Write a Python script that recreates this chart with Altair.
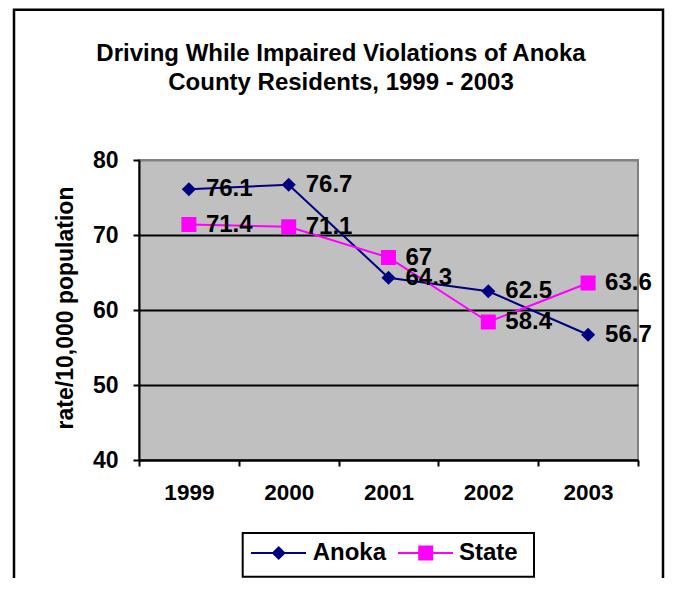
import altair as alt
import pandas as pd

years = ["1999", "2000", "2001", "2002", "2003"]
anoka = [76.1, 76.7, 64.3, 62.5, 56.7]
state = [71.4, 71.1, 67, 58.4, 63.6]
series = ["Anoka", "State"]
colors = ["#000080", "#FF00FF"]
shapes = ["diamond", "square"]
title_lines = ["Driving While Impaired Violations of Anoka", "County Residents, 1999 - 2003"]
y_title = "rate/10,000 population"
y_ticks = [40, 50, 60, 70, 80]

FONT = "Liberation Sans"

rows = []
for name, vals in zip(series, [anoka, state]):
    for yr, v in zip(years, vals):
        rows.append({"year": yr, "value": v, "series": name, "label": f"{v:g}"})
df = pd.DataFrame(rows)

x_enc = alt.X(
    "year:O",
    sort=years,
    bandPosition=0.5,
    scale=alt.Scale(type="band", paddingInner=0, paddingOuter=0),
    axis=alt.Axis(
        title=None, labelAngle=0, tickBand="extent", grid=False,
        domainColor="black", domainWidth=2, tickColor="black", tickWidth=2,
        tickSize=6, labelPadding=15, labelFontSize=22.5, labelFont=FONT,
        labelFontWeight="bold", labelColor="black", zindex=1,
    ),
)
y_enc = alt.Y(
    "value:Q",
    scale=alt.Scale(domain=[40, 80], nice=False, zero=False),
    axis=alt.Axis(
        values=y_ticks, title=y_title, titleFont=FONT, titleFontSize=23,
        titleFontWeight="bold", titleColor="black", titleX=-62, titleY=147.5,
        labelFont=FONT, labelFontSize=23, labelFontWeight="bold", labelColor="black",
        labelPadding=15, tickSize=6, tickWidth=2, tickColor="black",
        domainColor="black", domainWidth=2,
        gridColor=alt.condition("datum.value == 80", alt.value("#808080"), alt.value("black")),
        gridWidth=2,
    ),
)
color_enc = alt.Color("series:N", scale=alt.Scale(domain=series, range=colors), legend=None)
shape_enc = alt.Shape("series:N", scale=alt.Scale(domain=series, range=shapes), legend=None)
size_enc = alt.Size("series:N", scale=alt.Scale(domain=series, range=[200, 225]), legend=None)

base = alt.Chart(df)
lines = base.mark_line(strokeWidth=2).encode(x=x_enc, y=y_enc, color=color_enc, detail="series:N")
points = base.mark_point(filled=True, opacity=1).encode(
    x=x_enc, y=y_enc, color=color_enc, shape=shape_enc, size=size_enc
)
labels = base.mark_text(
    align="left", baseline="middle", dx=17, font=FONT, fontSize=24, fontWeight="bold", color="black"
).encode(x=x_enc, y=y_enc, text="label:N")

# outer frame
frame = alt.Chart(alt.Data(values=[{}])).mark_rect(
    fill=None, stroke="black", strokeWidth=2.5, clip=False
).encode(x=alt.value(-125), x2=alt.value(524), y=alt.value(-150.3), y2=alt.value(480))

# manual legend
leg_df = pd.DataFrame({"series": series})
leg_box = alt.Chart(alt.Data(values=[{}])).mark_rect(
    fill="white", stroke="black", strokeWidth=2
).encode(x=alt.value(103.7), x2=alt.value(395), y=alt.value(373), y2=alt.value(416.7))

leg_layers = [leg_box]
leg_pos = {"Anoka": (112, 167, 139.7, 173.7), "State": (259, 314, 286.7, 320)}
for name, col, shp, sz in zip(series, colors, shapes, [200, 225]):
    x1, x2, xs, xt = leg_pos[name]
    src = alt.Chart(leg_df).transform_filter(alt.datum.series == name)
    leg_layers.append(src.mark_rule(color=col, strokeWidth=2).encode(
        x=alt.value(x1), x2=alt.value(x2), y=alt.value(393)))
    leg_layers.append(src.mark_point(filled=True, opacity=1, color=col, shape=shp, size=sz).encode(
        x=alt.value(xs), y=alt.value(393)))
    leg_layers.append(src.mark_text(align="left", baseline="middle", font=FONT, fontSize=24,
                                    fontWeight="bold", color="black").encode(
        x=alt.value(xt), y=alt.value(393), text="series:N"))

chart = alt.layer(lines, points, labels, frame, *leg_layers).properties(
    width=499,
    height=300,
    autosize=alt.AutoSizeParams(type="none"),
    padding={"left": 131, "top": 152, "right": 27, "bottom": 118},
    background="white",
    title=alt.TitleParams(
        text=title_lines, font=FONT, fontSize=24, fontWeight="bold", color="black",
        anchor="middle", dx=-47.5, lineHeight=29, offset=-86.5,
    ),
).configure_view(fill="#C0C0C0", stroke="#808080", strokeWidth=2)

chart.save("out.html", embed_options={"renderer": "svg", "actions": False})
